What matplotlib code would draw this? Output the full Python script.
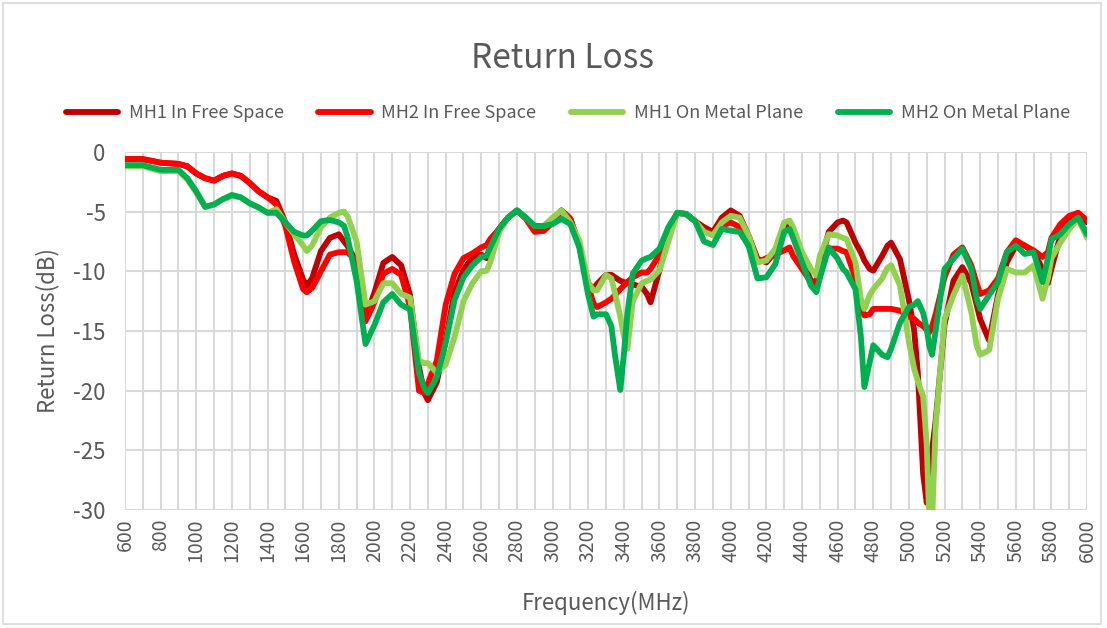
import matplotlib
matplotlib.use("Agg")
import matplotlib.pyplot as plt
from matplotlib.patches import Rectangle

plt.rcParams["font.family"] = ["Noto Sans CJK SC", "DejaVu Sans"]
plt.rcParams["font.weight"] = "light"

TEXT = "#595959"
GRID = "#D9D9D9"

freq = [
    600, 700, 800, 900, 950, 1000, 1050, 1100, 1150, 1200,
    1250, 1300, 1350, 1400, 1450, 1500, 1550, 1600, 1620, 1650,
    1700, 1750, 1800, 1830, 1850, 1900, 1950, 2000, 2050, 2100,
    2150, 2200, 2250, 2280, 2300, 2350, 2400, 2450, 2500, 2550,
    2600, 2630, 2650, 2700, 2750, 2800, 2850, 2900, 2950, 3000,
    3050, 3100, 3150, 3200, 3230, 3250, 3300, 3330, 3350, 3380,
    3400, 3420, 3450, 3500, 3530, 3550, 3600, 3650, 3700, 3750,
    3800, 3850, 3900, 3950, 4000, 4050, 4100, 4150, 4200, 4250,
    4300, 4330, 4350, 4400, 4450, 4480, 4500, 4550, 4600, 4630,
    4650, 4700, 4730, 4750, 4780, 4800, 4850, 4880, 4900, 4950,
    5000, 5030, 5050, 5080, 5100, 5115, 5130, 5150, 5200, 5250,
    5300, 5350, 5380, 5400, 5450, 5500, 5550, 5600, 5650, 5700,
    5750, 5780, 5800, 5850, 5900, 5950, 6000,
]

mh1_free = [
    -0.6, -0.6, -0.9, -1.0, -1.2, -1.8, -2.2, -2.4, -2.0, -1.8,
    -2.0, -2.6, -3.3, -3.8, -4.1, -5.9, -8.6, -10.7, -11.2, -10.6,
    -8.3, -7.2, -6.9, -7.5, -7.9, -9.2, -13.9, -11.8, -9.3, -8.8,
    -9.5, -12.0, -18.0, -20.2, -20.8, -19.3, -15.8, -11.7, -9.9, -8.8,
    -8.6, -8.9, -7.9, -6.45, -5.5, -4.9, -5.5, -6.5, -6.6, -5.9,
    -4.9, -5.6, -7.85, -11.0, -11.5, -11.05, -10.3, -10.3, -10.5, -10.8,
    -10.9, -11.0, -11.1, -11.3, -11.9, -12.6, -9.9, -6.9, -5.1, -5.2,
    -5.8, -6.3, -6.7, -5.5, -4.9, -5.35, -7.0, -8.95, -9.25, -8.4,
    -6.3, -6.2, -6.9, -8.95, -10.8, -10.9, -9.5, -6.7, -5.9, -5.75,
    -5.9, -7.6, -8.4, -9.1, -9.8, -9.95, -8.7, -7.85, -7.6, -9.0,
    -12.4, -15.0, -18.5, -27.0, -29.4, -27.5, -25.0, -22.5, -14.5, -10.8,
    -9.65, -11.0, -12.8, -14.0, -15.8, -12.0, -9.25, -7.85, -7.85, -8.4,
    -9.8, -11.0, -9.8, -7.0, -5.6, -5.1, -5.9,
]

mh2_free = [
    -0.6, -0.6, -0.9, -1.0, -1.2, -1.8, -2.2, -2.4, -2.0, -1.8,
    -2.0, -2.6, -3.3, -3.8, -4.4, -6.2, -9.2, -11.5, -11.75, -11.4,
    -10.0, -8.6, -8.4, -8.4, -8.4, -9.2, -14.2, -12.6, -10.2, -9.8,
    -10.3, -13.0, -20.0, -20.2, -19.4, -17.5, -12.8, -10.2, -8.9, -8.5,
    -8.0, -7.8, -7.3, -6.45, -5.5, -4.9, -5.6, -6.7, -6.6, -5.9,
    -4.9, -5.6, -7.85, -11.2, -12.7, -13.0, -12.6, -12.3, -12.0, -11.5,
    -11.2, -10.9, -10.5, -10.1, -10.1, -9.8, -8.6, -6.7, -5.1, -5.2,
    -5.8, -6.6, -6.9, -6.2, -5.9, -6.3, -7.85, -9.25, -8.9, -8.6,
    -8.25, -8.0, -8.7, -9.8, -10.9, -11.0, -10.1, -8.1, -8.1, -8.3,
    -8.4, -10.6, -12.9, -13.7, -13.6, -13.15, -13.15, -13.15, -13.15, -13.3,
    -13.8, -14.0, -14.3, -14.6, -14.9, -15.1, -14.6, -13.6, -10.5, -8.6,
    -8.0, -9.5, -11.0, -11.9, -11.6, -10.6, -8.4, -7.4, -7.85, -8.25,
    -8.8, -8.4, -7.2, -6.05, -5.35, -5.1, -5.75,
]

mh1_metal = [
    -1.2, -1.2, -1.6, -1.6, -2.3, -3.4, -4.6, -4.4, -3.95, -3.7,
    -3.8, -4.3, -4.65, -5.1, -4.8, -5.9, -6.9, -7.85, -8.3, -7.85,
    -6.3, -5.5, -5.1, -5.0, -5.4, -7.5, -12.8, -12.5, -11.0, -11.0,
    -11.9, -12.2, -17.5, -17.7, -17.7, -18.5, -17.8, -15.5, -12.5, -11.0,
    -10.0, -9.95, -9.25, -6.7, -5.5, -4.9, -5.5, -6.2, -6.2, -5.5,
    -4.9, -5.9, -7.4, -11.0, -11.6, -11.6, -10.3, -10.6, -11.8, -13.8,
    -15.4, -16.5, -12.5, -11.0, -10.8, -10.7, -9.9, -7.5, -5.1, -5.2,
    -5.8, -6.7, -7.0, -5.9, -5.35, -5.5, -7.0, -9.25, -9.1, -8.1,
    -5.9, -5.75, -6.3, -8.4, -9.8, -10.35, -8.7, -6.9, -7.0, -7.2,
    -7.3, -9.25, -12.3, -13.15, -12.0, -11.5, -10.6, -9.7, -9.5, -11.2,
    -15.9, -18.2, -19.2, -20.5, -24.5, -31.0, -31.0, -23.0, -14.0, -12.0,
    -10.35, -13.4, -16.2, -17.0, -16.6, -12.3, -9.8, -10.1, -10.1, -9.5,
    -12.3, -10.6, -8.9, -7.6, -6.45, -5.6, -7.2,
]

mh2_metal = [
    -1.1, -1.1, -1.5, -1.5, -2.2, -3.3, -4.6, -4.4, -3.95, -3.6,
    -3.8, -4.3, -4.65, -5.1, -5.1, -5.9, -6.7, -7.0, -7.0, -6.6,
    -5.8, -5.7, -5.9, -6.2, -7.2, -10.8, -16.1, -14.5, -12.6, -11.9,
    -12.8, -13.2, -18.5, -19.8, -20.2, -18.9, -16.0, -12.4, -10.5, -9.5,
    -8.8, -8.7, -8.0, -6.45, -5.5, -4.9, -5.5, -6.2, -6.2, -6.05,
    -5.6, -6.05, -8.0, -12.0, -13.8, -13.6, -13.6, -14.6, -17.0, -19.95,
    -17.0, -13.5, -10.2, -9.1, -8.9, -8.8, -8.1, -6.3, -5.1, -5.2,
    -5.8, -7.5, -7.8, -6.45, -6.6, -6.7, -7.85, -10.6, -10.5, -9.4,
    -6.7, -6.45, -7.2, -9.25, -11.2, -11.75, -10.6, -8.0, -8.95, -9.8,
    -10.1, -11.5, -15.4, -19.7, -17.6, -16.2, -17.0, -17.2, -16.5, -14.3,
    -13.0, -12.8, -12.5, -13.5, -14.8, -16.3, -17.0, -15.0, -9.8, -8.95,
    -8.1, -9.8, -12.3, -13.15, -12.0, -10.9, -8.4, -7.85, -8.55, -8.4,
    -10.9, -8.9, -7.3, -6.9, -6.05, -5.5, -6.9,
]

series = [
    ("MH1 In Free Space", mh1_free, "#C00000"),
    ("MH2 In Free Space", mh2_free, "#FF0000"),
    ("MH1 On Metal Plane", mh1_metal, "#92D050"),
    ("MH2 On Metal Plane", mh2_metal, "#00B050"),
]

fig = plt.figure(figsize=(11.07, 6.28), dpi=100)
ax = fig.add_axes([0.1129, 0.188, 0.8691, 0.570])

for name, vals, color in series:
    ax.plot(freq, vals, color=color, lw=4.2, label=name,
            solid_joinstyle="round", solid_capstyle="round", zorder=3)

ax.set_xlim(600, 6000)
ax.set_ylim(-30, 0)
ax.set_xticks(range(600, 6001, 200))
ax.set_xticks(range(600, 6001, 100), minor=True)
ax.set_yticks(range(-30, 1, 5))
ax.set_yticklabels([str(v) for v in range(-30, 1, 5)])
ax.tick_params(axis="x", labelrotation=90, length=0, labelsize=14,
               colors=TEXT, pad=6)
ax.tick_params(axis="y", length=0, labelsize=16, colors=TEXT, pad=14)
ax.tick_params(which="minor", length=0)
ax.grid(True, which="both", axis="x", color=GRID, lw=1.5, zorder=0)
ax.grid(True, axis="y", color=GRID, lw=1.5, zorder=0)
for s in ax.spines.values():
    s.set_visible(False)
ax.set_axisbelow(True)

ax.set_xlabel("Frequency(MHz)", fontsize=16, color=TEXT, labelpad=21)
ax.set_ylabel("Return Loss(dB)", fontsize=16, color=TEXT, labelpad=10)

fig.text(0.508, 0.907, "Return Loss", fontsize=24, color=TEXT,
         ha="center", va="center")

leg = fig.legend(loc="center", bbox_to_anchor=(0.513, 0.82), ncol=4,
                 frameon=False, fontsize=13, handlelength=2.9,
                 columnspacing=1.9, handletextpad=0.6)
for t in leg.get_texts():
    t.set_color(TEXT)

fig.patches.append(Rectangle((0.003, 0.006), 0.992, 0.99, transform=fig.transFigure,
                             fill=False, edgecolor=GRID, lw=1.2))

fig.savefig("out.png", dpi=100)
